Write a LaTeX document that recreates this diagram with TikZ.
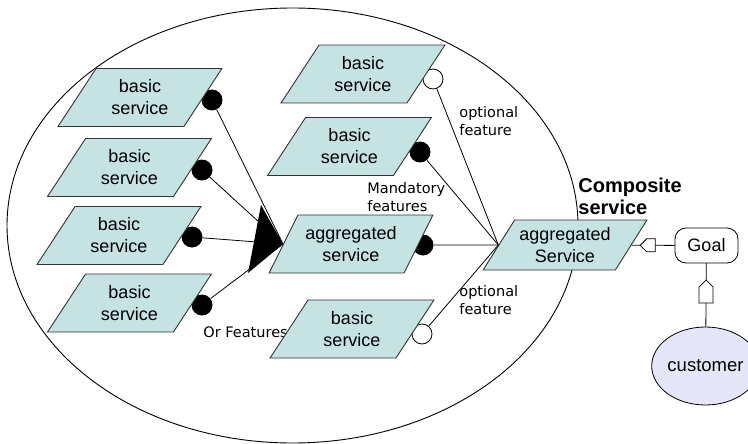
\documentclass[tikz,border=0pt]{standalone}
\usepackage{fontspec}
\setmainfont{Liberation Sans}
\newfontfamily\lblfont{DejaVu Sans}
\usetikzlibrary{shapes.geometric,shapes.symbols}
\definecolor{svcfill}{RGB}{197,227,227}
\definecolor{custfill}{RGB}{230,230,250}
\tikzset{
  svc/.style={trapezium, trapezium left angle=55, trapezium right angle=125,
    trapezium stretches=true, draw=black!80, fill=svcfill, line width=0.9pt,
    minimum width=164pt, minimum height=58pt, inner sep=0pt, align=center,
    font=\fontsize{18}{22}\selectfont},
  mand/.style={circle, fill=black, minimum size=21pt, inner sep=0pt},
  optf/.style={circle, draw, fill=white, line width=0.8pt, minimum size=20pt, inner sep=0pt},
  lbl/.style={anchor=west, align=left, inner sep=0pt, font=\lblfont\fontsize{14.5}{18}\selectfont},
  homeplate/.style={signal, signal pointer angle=90, draw, fill=white,
    line width=0.8pt, inner sep=0pt}
}
\begin{document}
\begin{tikzpicture}[x=1pt,y=-1pt,line width=0.8pt]
  \useasboundingbox (0,0) rectangle (748,444);
  % Draw the composite service boundary
  \draw[line width=0.9pt] (292.5,225.5) ellipse [x radius=285.5, y radius=217.5];

  % Draw the labels
  \node[lbl] (optA) at (459,121) {optional\\feature};
  \node[lbl] (mandA) at (367,197) {Mandatory\\features};
  \node[lbl] (optB) at (459,300) {optional\\feature};
  \node[lbl] (orF) at (203,332) {Or Features};
  \node[anchor=west, align=left, inner sep=0pt, font=\bfseries\fontsize{20}{22}\selectfont]
    (comp) at (578,196) {Composite\\service};

  % Draw the feature dots
  \node[mand] (d1) at (212,100) {};
  \node[mand] (d2) at (202,170) {};
  \node[mand] (d3) at (192,237) {};
  \node[mand] (d4) at (202,305) {};
  \node[optf] (o1) at (433,79) {};
  \node[mand] (f2) at (420,152) {};
  \node[mand] (f3) at (423,245) {};
  \node[optf] (o4) at (422,334) {};

  % Draw the services
  \node[svc] (b1) at (140,97.5) {basic\\service};
  \node[svc] (b2) at (129.5,167.5) {basic\\service};
  \node[svc] (b3) at (119,235.5) {basic\\service};
  \node[svc] (b4) at (129.5,303) {basic\\service};
  \node[svc] (m1) at (363,74) {basic\\service};
  \node[svc] (m2) at (349.5,146.5) {basic\\service};
  \node[svc] (aggM) at (351,244) {aggregated\\service};
  \node[svc] (m4) at (352,329) {basic\\service};
  \node[svc, minimum height=50pt, trapezium left angle=51, trapezium right angle=129]
    (aggR) at (565,245) {aggregated\\Service};

  % Draw the goal and the customer
  \node[draw, rounded corners=11pt, minimum width=63pt, minimum height=35pt,
    font=\fontsize{18}{22}\selectfont] (goal) at (706.5,245.5) {Goal};
  \node[ellipse, draw, fill=custfill, minimum width=85pt, minimum height=78pt,
    inner sep=0pt, font=\fontsize{18.5}{22}\selectfont] (cust) at (705.5,366) {customer};

  % Draw the feature links
  \draw (d1) -- (aggM.west);
  \draw (d2) -- (aggM.west);
  \draw (d3) -- (aggM.west);
  \draw (d4) -- (aggM.west);
  \draw (o1) -- (aggR.west);
  \draw (f2) -- (aggR.west);
  \draw (f3) -- (aggR.west);
  \draw (o4) -- (aggR.west);

  % Draw the or-feature wedge
  \fill (aggM.west) -- ++(-22,-39) -- ++(-13,68) -- cycle;

  % Draw the goal links
  \draw (aggR) -- node[homeplate, signal to=west, minimum width=15pt, minimum height=13pt, pos=0.45] {} (goal);
  \draw (goal) -- node[homeplate, signal to=north, minimum width=14pt, minimum height=16pt] {} (cust);
\end{tikzpicture}
\end{document}
